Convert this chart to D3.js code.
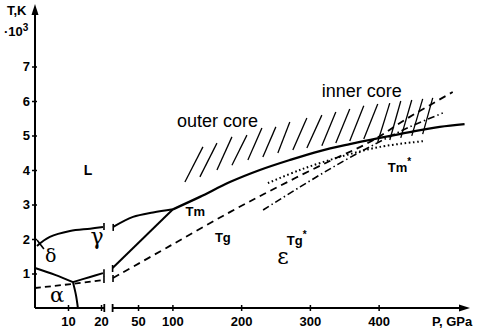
<!DOCTYPE html>
<html>
<head>
<meta charset="utf-8">
<script src="https://cdn.jsdelivr.net/npm/d3@7/dist/d3.min.js"></script>
<style>
  body { margin: 0; background: #fff; }
  svg { display: block; font-family: "Liberation Sans", Arial, sans-serif; }
  .tick line { stroke: #000; stroke-width: 1.5; }
  .label { fill: #000; }
</style>
</head>
<body>
<svg id="chart"></svg>
<script>
// Tick values
var tempTicks = [1, 2, 3, 4, 5, 6, 7];
var lowPTicks = [10, 20];
var highPTicks = [50, 100, 200, 300, 400];

// Low pressure part (P in GPa, T in 10^3 K)
var meltLow = [[0.6, 1.80], [4.5, 2.06], [10.6, 2.23], [16.7, 2.30], [20.6, 2.35]];
var deltaGamma = [[0.6, 1.97], [2.7, 1.71]];
var alphaGamma = [[0, 1.16], [6.1, 0.96], [11.5, 0.75]];
var alphaEps = [[11.5, 0.75], [12.4, 0.38], [13.0, 0]];
var gammaEpsLow = [[11.5, 0.75], [16.7, 0.90], [20.6, 1.01]];
var tgLow = [[0, 0.58], [11.5, 0.70], [20.6, 0.81]];

// High pressure part
var gammaMeltHigh = [[13.9, 2.35], [42.7, 2.64], [71.8, 2.77], [100.8, 2.86]];
var meltHigh = [[100.8, 2.86], [140, 3.22], [183.6, 3.65], [227.2, 4.0], [270.8, 4.29], [314.4, 4.55],
  [358, 4.75], [401.6, 4.93], [445.3, 5.10], [488.9, 5.25], [525, 5.33]];
var gammaEpsHigh = [[13.0, 1.16], [100.8, 2.86]];
var tgHigh = [[13.6, 0.87], [96.4, 1.80], [183.6, 2.78], [256.3, 3.54], [328.9, 4.26], [387.1, 4.81],
  [445.3, 5.54], [507.8, 6.26]];
var tgStar = [[231.9, 2.84], [285.7, 3.51], [343.8, 4.20], [397.6, 4.78], [445.3, 5.25], [493.3, 5.65]];
var tmStar = [[238.9, 3.62], [285.4, 4.00], [343.8, 4.38], [401.7, 4.67], [467.0, 4.84]];

// Core hatching: bottom and top ends of each stroke
var hatchBottomP = [118.2, 140.0, 164.8, 186.6, 209.8, 231.6, 253.4, 275.2, 295.6, 317.4, 337.7, 358.0, 378.4, 398.7, 416.2, 432.2, 448.2, 464.1];
var hatchBottomT = [3.65, 3.80, 4.00, 4.14, 4.29, 4.38, 4.49, 4.58, 4.64, 4.70, 4.78, 4.84, 4.90, 4.81, 4.87, 4.93, 4.99, 5.04];
var hatchTopP = [144.4, 164.8, 186.6, 208.4, 230.2, 250.5, 270.8, 295.6, 317.4, 337.7, 358.0, 378.4, 398.7, 416.2, 432.2, 448.2, 464.1, 478.7];
var hatchTopT = [4.67, 4.78, 4.96, 5.01, 5.22, 5.25, 5.39, 5.51, 5.59, 5.68, 5.77, 5.86, 5.91, 5.94, 6.00, 6.03, 6.06, 6.09];

var width = 479;
var height = 331;

var svg = d3.select('#chart')
  .attr('width', width)
  .attr('height', height);

// Scales: broken pressure axis
var lowX = d3.scaleLinear().domain([0, 21]).range([35, 104.3]);
var highX = d3.scaleLinear().domain([13, 530]).range([112.6, 468]);
var y = d3.scaleLinear().domain([0, 7]).range([308, 66.5]);

function styleAxis(g) {
  g.attr('font-family', null)
    .attr('font-size', 13)
    .attr('font-weight', 'bold');
  g.select('.domain').remove();
}

// Axes
var yAxis = d3.axisLeft(y)
  .tickValues(tempTicks)
  .tickFormat(d3.format('d'))
  .tickSizeInner(3)
  .tickSizeOuter(0)
  .tickPadding(2);
svg.append('g')
  .attr('transform', 'translate(35,0)')
  .call(yAxis)
  .call(styleAxis)
  .call(function(g) { g.selectAll('.tick line').attr('x1', 2); });

[[lowX, lowPTicks], [highX, highPTicks]].forEach(function(pair) {
  var ax = d3.axisBottom(pair[0])
    .tickValues(pair[1])
    .tickFormat(d3.format('d'))
    .tickSizeInner(3)
    .tickSizeOuter(0)
    .tickPadding(6);
  svg.append('g')
    .attr('transform', 'translate(0,308)')
    .call(ax)
    .call(styleAxis)
    .call(function(g) { g.selectAll('.tick line').attr('y1', -3); });
});

// Axis lines
svg.append('line').attr('x1', 35).attr('x2', 35).attr('y1', y(0)).attr('y2', 10)
  .attr('stroke', '#000').attr('stroke-width', 2);
svg.append('path').attr('d', 'M35,4 L31.5,15 L38.5,15 Z').attr('fill', '#000');

svg.append('line').attr('x1', 35).attr('x2', lowX(21)).attr('y1', y(0)).attr('y2', y(0))
  .attr('stroke', '#000').attr('stroke-width', 2);
svg.append('line').attr('x1', highX(13)).attr('x2', 462).attr('y1', y(0)).attr('y2', y(0))
  .attr('stroke', '#000').attr('stroke-width', 2);
svg.append('path').attr('d', 'M470,308 L459,304.5 L459,311.5 Z').attr('fill', '#000');

// Break marks on the pressure axis
[lowX(21), highX(13)].forEach(function(bx) {
  svg.append('line').attr('x1', bx).attr('x2', bx).attr('y1', y(0) - 4).attr('y2', y(0) + 4)
    .attr('stroke', '#000').attr('stroke-width', 1.8);
});

// Line helpers
var lowLine = d3.line().x(function(d) { return lowX(d[0]); }).y(function(d) { return y(d[1]); }).curve(d3.curveCatmullRom);
var highLine = d3.line().x(function(d) { return highX(d[0]); }).y(function(d) { return y(d[1]); }).curve(d3.curveCatmullRom);

function draw(gen, data, dash, w) {
  var p = svg.append('path')
    .datum(data)
    .attr('d', gen)
    .attr('fill', 'none')
    .attr('stroke', '#000')
    .attr('stroke-width', w || 2);
  if (dash) p.attr('stroke-dasharray', dash);
  return p;
}

// Hatching
var hatch = svg.append('g').classed('hatch', true);
hatch.selectAll('line')
  .data(hatchBottomP.map(function(p, i) { return i; }))
  .enter()
  .append('line')
  .attr('x1', function(i) { return highX(hatchBottomP[i]); })
  .attr('y1', function(i) { return y(hatchBottomT[i]); })
  .attr('x2', function(i) { return highX(hatchTopP[i]); })
  .attr('y2', function(i) { return y(hatchTopT[i]); })
  .attr('stroke', '#000')
  .attr('stroke-width', 1.3);

// Phase boundaries
draw(lowLine, meltLow);
draw(lowLine, deltaGamma, null, 1.6);
draw(lowLine, alphaGamma);
draw(lowLine, alphaEps);
draw(lowLine, gammaEpsLow);
draw(lowLine, tgLow, '6,4', 1.8);

draw(highLine, gammaMeltHigh);
draw(highLine, meltHigh, null, 2.3);
draw(highLine, gammaEpsHigh);
draw(highLine, tgHigh, '7,5', 1.8);
draw(highLine, tgStar, '7,3,1.5,3', 1.6);
draw(highLine, tmStar, '1.6,2.6', 2);

// Break marks on broken lines
[meltLow, gammaEpsLow, tgLow].forEach(function(d) {
  var last = d[d.length - 1];
  svg.append('line').attr('x1', lowX(last[0]) + 1).attr('x2', lowX(last[0]) + 1)
    .attr('y1', y(last[1]) - 4).attr('y2', y(last[1]) + 3)
    .attr('stroke', '#000').attr('stroke-width', 1.6);
});
[gammaMeltHigh, gammaEpsHigh, tgHigh].forEach(function(d) {
  svg.append('line').attr('x1', highX(d[0][0])).attr('x2', highX(d[0][0]))
    .attr('y1', y(d[0][1]) - 3).attr('y2', y(d[0][1]) + 4)
    .attr('stroke', '#000').attr('stroke-width', 1.6);
});

// Axis titles
svg.append('text').classed('label', true)
  .attr('x', 7).attr('y', 15)
  .attr('font-size', 13).attr('font-weight', 'bold')
  .text('T,K');
var tt = svg.append('text').classed('label', true)
  .attr('x', 4).attr('y', 36)
  .attr('font-size', 13).attr('font-weight', 'bold');
tt.append('tspan').text('\u00b710');
tt.append('tspan').attr('dy', -5).attr('font-size', 10).text('3');

svg.append('text').classed('label', true)
  .attr('x', 432).attr('y', 326)
  .attr('font-size', 13).attr('font-weight', 'bold')
  .text('P, GPa');

// Phase labels
function lowLabel(p, t, txt, size, anchor) {
  return svg.append('text').classed('label', true)
    .attr('x', lowX(p)).attr('y', y(t))
    .attr('font-size', size).attr('text-anchor', anchor || 'middle')
    .text(txt);
}
function highLabel(p, t, txt, size, anchor) {
  return svg.append('text').classed('label', true)
    .attr('x', highX(p)).attr('y', y(t))
    .attr('font-size', size).attr('text-anchor', anchor || 'middle')
    .text(txt);
}

lowLabel(16.1, 3.86, 'L', 14).attr('font-weight', 'bold');
lowLabel(4.8, 1.33, '\u03b4', 19).attr('font-family', 'DejaVu Serif');
lowLabel(18.8, 1.86, '\u03b3', 22).attr('font-family', 'DejaVu Serif');
lowLabel(6.7, 0.17, '\u03b1', 21).attr('font-family', 'DejaVu Serif');
highLabel(260.7, 1.28, '\u03b5', 22).attr('font-family', 'DejaVu Serif');

highLabel(119.2, 2.67, 'Tm', 13, 'start').attr('font-weight', 'bold');
highLabel(161.8, 1.91, 'Tg', 13, 'start').attr('font-weight', 'bold');
var tgs = highLabel(266.4, 1.83, 'Tg', 13, 'start').attr('font-weight', 'bold');
tgs.append('tspan').attr('dy', -7).attr('font-size', 10).text('*');
var tms = highLabel(413.2, 3.94, 'Tm', 13, 'start').attr('font-weight', 'bold');
tms.append('tspan').attr('dy', -7).attr('font-size', 10).text('*');

highLabel(106.8, 5.25, 'outer core', 18, 'start');
highLabel(317.3, 6.12, 'inner core', 18, 'start');
</script>
</body>
</html>
